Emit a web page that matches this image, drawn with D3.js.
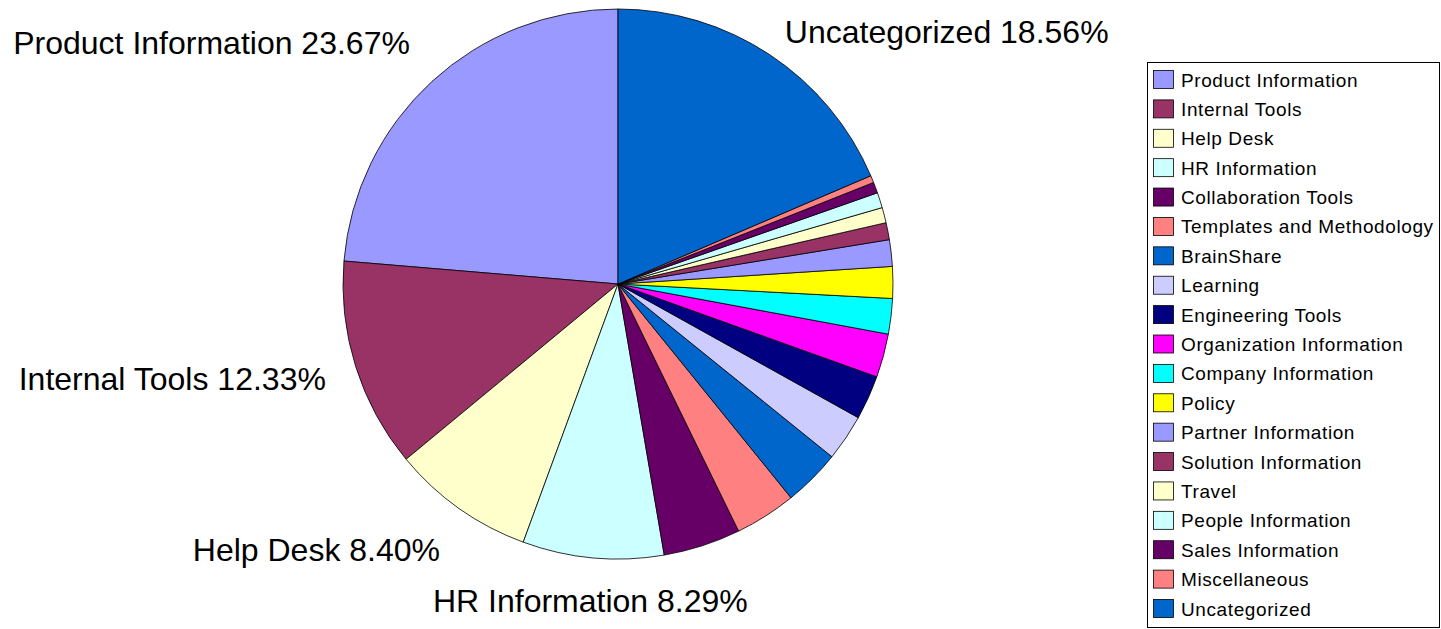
<!DOCTYPE html>
<html>
<head>
<meta charset="utf-8">
<script src="https://cdn.jsdelivr.net/npm/d3@7"></script>
<style>
  body { margin: 0; background: #fff; }
  text { font-family: "Liberation Sans", Arial, sans-serif; }
</style>
</head>
<body>
<div id="graph"></div>
<script>
const categories = [
  "Product Information", "Internal Tools", "Help Desk", "HR Information",
  "Collaboration Tools", "Templates and Methodology", "BrainShare", "Learning",
  "Engineering Tools", "Organization Information", "Company Information", "Policy",
  "Partner Information", "Solution Information", "Travel", "People Information",
  "Sales Information", "Miscellaneous", "Uncategorized"
]
const shares = [
  23.67, 12.33, 8.40, 8.29,
  4.54, 3.60, 3.36, 2.73,
  2.60, 2.56, 2.08, 1.86,
  1.56, 1.00, 0.90, 0.90,
  0.64, 0.42, 18.56
]
const colors = [
  "#9999FF", "#993366", "#FFFFCC", "#CCFFFF",
  "#660066", "#FF8080", "#0066CC", "#CCCCFF",
  "#000080", "#FF00FF", "#00FFFF", "#FFFF00",
  "#9999FF", "#993366", "#FFFFCC", "#CCFFFF",
  "#660066", "#FF8080", "#0066CC"
]

const width = 1441
const height = 629
const cx = 618
const cy = 284
const radius = 275

const svg = d3.select("#graph").append("svg")
    .attr("width", width)
    .attr("height", height)

const data = categories.map((name, i) => ({ name, value: shares[i] }))

const color = d3.scaleOrdinal().domain(categories).range(colors)

// counter-clockwise from 12 o'clock, like the spreadsheet did it
const pie = d3.pie()
    .sort(null)
    .value(d => d.value)
    .startAngle(0)
    .endAngle(-2 * Math.PI)

const arc = d3.arc().innerRadius(0).outerRadius(radius)
const arcs = pie(data)

const g = svg.append("g")
    .attr("transform", `translate(${cx},${cy})`)

g.selectAll("path")
    .data(arcs)
    .join("path")
    .attr("d", arc)
    .attr("fill", d => color(d.data.name))
    .attr("stroke", "#000")
    .attr("stroke-width", 0.8)

// Labels for the big slices only
// small vertical nudges, excel doesn't place them quite symmetric
const labelNudge = { "Product Information": -9, "Uncategorized": 12, "Help Desk": 8, "HR Information": 2 }
const labelR = radius + 28
const fs = 32
g.selectAll("text.lbl")
    .data(arcs.filter(d => d.data.value >= 8))
    .join("text")
    .attr("class", "lbl")
    .attr("font-size", fs)
    .attr("fill", "#000")
    .each(function(d) {
        const a = (d.startAngle + d.endAngle) / 2
        const s = Math.sin(a), c = Math.cos(a)
        const px = labelR * s
        const py = -labelR * c
        d3.select(this)
            .attr("x", px + (s < -0.3 ? -3 : 0))
            .attr("y", py - c * 13 + fs * 0.35 + (labelNudge[d.data.name] || 0))
            .attr("text-anchor", s > 0.3 ? "start" : s < -0.3 ? "end" : "middle")
    })
    .text(d => d.data.name + " " + d.data.value.toFixed(2) + "%")

// Legend
const lx = 1147
const ly = 62
const legendY = d3.scalePoint().domain(categories).range([80, 609])

svg.append("rect")
    .attr("x", lx + 0.5)
    .attr("y", ly + 0.5)
    .attr("width", width - lx - 2)
    .attr("height", 565)
    .attr("fill", "#fff")
    .attr("stroke", "#000")
    .attr("stroke-width", 1)

const item = svg.append("g").selectAll("g")
    .data(categories)
    .join("g")
    .attr("transform", d => `translate(0,${legendY(d)})`)

item.append("rect")
    .attr("x", 1153.5)
    .attr("y", -9.5)
    .attr("width", 20)
    .attr("height", 18)
    .attr("fill", d => color(d))
    .attr("stroke", "#000")
    .attr("stroke-width", 0.8)

item.append("text")
    .attr("x", 1181)
    .attr("y", 6.5)
    .attr("font-size", 19)
    .attr("letter-spacing", 0.6)
    .text(d => d)
</script>
</body>
</html>
